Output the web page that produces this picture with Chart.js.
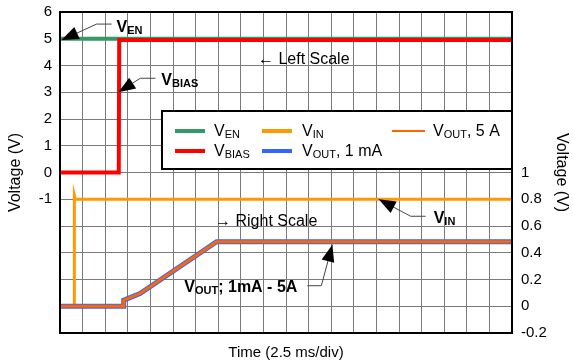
<!DOCTYPE html>
<html>
<head>
<meta charset="utf-8">
<script src="https://cdn.jsdelivr.net/npm/chart.js@4.4.0/dist/chart.umd.min.js"></script>
<style>
  body { margin: 0; background: #fff; }
  canvas { display: block; }
</style>
</head>
<body>
<canvas id="c" width="573" height="364"></canvas>
<script>
// -------- Data (x in divisions, 2.5 ms/div) --------
const venT = [0, 20];
const venV = [5, 5];
const biasT = [0, 2.6, 2.62, 20];
const biasV = [0, 0, 4.95, 4.95];
const vinT = [0, 0.63, 0.635, 0.68, 20];
const vinV = [0, 0, 0.83, 0.8, 0.8];
const voutT = [0, 2.8, 2.82, 3.54, 6.93, 20];
const vout1mA = [0, 0, 0.045, 0.095, 0.482, 0.482];
const vout5A = [0, 0, 0.045, 0.095, 0.482, 0.482];

const leftTicksShown = [6, 5, 4, 3, 2, 1, 0, -1];
const rightTicksShown = [1, 0.8, 0.6, 0.4, 0.2, 0, -0.2];

// legend names: [main, subscript, tail]
const nameEN = ["V", "EN", ""];
const nameBIAS = ["V", "BIAS", ""];
const nameIN = ["V", "IN", ""];
const nameOUT1 = ["V", "OUT", ", 1 mA"];
const nameOUT5 = ["V", "OUT", ", 5 A"];

const FONT = '"Liberation Sans", Arial, sans-serif';
const GRID = "#7a7a7a";

function pts(xs, ys) { return xs.map((x, i) => ({ x: x, y: ys[i] })); }

// -------- Helpers --------
function subText(ctx, x, y, parts, big, small, bold) {
  const w = bold ? "bold " : "";
  ctx.font = w + big + "px " + FONT;
  ctx.fillText(parts[0], x, y);
  x += ctx.measureText(parts[0]).width;
  if (parts[1]) {
    ctx.font = w + small + "px " + FONT;
    ctx.fillText(parts[1], x, y + 2);
    x += ctx.measureText(parts[1]).width;
  }
  if (parts[2]) {
    ctx.font = w + big + "px " + FONT;
    ctx.fillText(parts[2], x, y);
    x += ctx.measureText(parts[2]).width;
  }
  return x;
}

function leader(ctx, tip, elbow, end) {
  ctx.save();
  ctx.strokeStyle = "#444";
  ctx.lineWidth = 1;
  ctx.beginPath();
  ctx.moveTo(end[0], end[1]);
  ctx.lineTo(elbow[0], elbow[1]);
  ctx.lineTo(tip[0], tip[1]);
  ctx.stroke();
  const a = Math.atan2(tip[1] - elbow[1], tip[0] - elbow[0]);
  const L = 17, W = 6.5;
  const bx = tip[0] - L * Math.cos(a), by = tip[1] - L * Math.sin(a);
  ctx.fillStyle = "#000";
  ctx.beginPath();
  ctx.moveTo(tip[0], tip[1]);
  ctx.lineTo(bx + W * Math.sin(a), by - W * Math.cos(a));
  ctx.lineTo(bx - W * Math.sin(a), by + W * Math.cos(a));
  ctx.closePath();
  ctx.fill();
  ctx.restore();
}

// -------- Plugin: frame, notes, legend --------
const extras = {
  id: "extras",
  afterDatasetsDraw(chart) {
    const ctx = chart.ctx;
    const a = chart.chartArea;
    const x = chart.scales.x, yL = chart.scales.yL, yR = chart.scales.yR;

    // plot frame
    ctx.save();
    ctx.strokeStyle = "#000";
    ctx.lineWidth = 2;
    ctx.strokeRect(a.left, a.top, a.right - a.left, a.bottom - a.top);
    ctx.restore();

    ctx.save();
    ctx.fillStyle = "#000";
    ctx.textBaseline = "alphabetic";

    // V_EN
    let t = [x.getPixelForValue(0.07), yL.getPixelForValue(4.95)];
    leader(ctx, t, [t[0] + 35, t[1] - 16], [t[0] + 50, t[1] - 16]);
    subText(ctx, t[0] + 55, t[1] - 8, nameEN, 16, 11, true);

    // V_BIAS
    t = [x.getPixelForValue(2.58), yL.getPixelForValue(3)];
    leader(ctx, t, [t[0] + 22, t[1] - 14], [t[0] + 37, t[1] - 14]);
    subText(ctx, t[0] + 43, t[1] - 7, nameBIAS, 16, 11, true);

    // V_IN
    t = [x.getPixelForValue(14.1), yR.getPixelForValue(0.8)];
    leader(ctx, t, [t[0] + 32, t[1] + 17], [t[0] + 47, t[1] + 17]);
    subText(ctx, t[0] + 55, t[1] + 24, nameIN, 16, 11, true);

    // V_OUT; 1mA - 5A
    t = [x.getPixelForValue(12.05), yR.getPixelForValue(0.46)];
    leader(ctx, t, [t[0] - 11, t[1] + 41], [t[0] - 25, t[1] + 41]);
    subText(ctx, t[0] - 148, t[1] + 47, ["V", "OUT", "; 1mA - 5A"], 16, 11, true);

    // scale hints
    ctx.font = "16px " + FONT;
    ctx.fillText("\u2190 Left Scale", x.getPixelForValue(8.76), yL.getPixelForValue(4.07));
    ctx.fillText("\u2192 Right Scale", x.getPixelForValue(6.86), yR.getPixelForValue(0.598));
    ctx.restore();

    // legend box
    ctx.save();
    const bx = 162, by = 111, bw = a.right - 162, bh = 58;
    ctx.fillStyle = "#fff";
    ctx.fillRect(bx, by, bw, bh);
    ctx.strokeStyle = "#000";
    ctx.lineWidth = 2;
    ctx.strokeRect(bx, by, bw, bh);
    const ds = chart.data.datasets;
    const items = [
      { d: ds[0], n: nameEN, sx: 175, sw: 30, tx: 214, ty: 136, lw: 4 },
      { d: ds[1], n: nameBIAS, sx: 175, sw: 30, tx: 214, ty: 156, lw: 4 },
      { d: ds[2], n: nameIN, sx: 262, sw: 30, tx: 302, ty: 136, lw: 4 },
      { d: ds[3], n: nameOUT1, sx: 262, sw: 30, tx: 302, ty: 156, lw: 4 },
      { d: ds[4], n: nameOUT5, sx: 392, sw: 33, tx: 433, ty: 136, lw: 2 }
    ];
    items.forEach(it => {
      ctx.strokeStyle = it.d.borderColor;
      ctx.lineWidth = it.lw;
      ctx.beginPath();
      ctx.moveTo(it.sx, it.ty - 5);
      ctx.lineTo(it.sx + it.sw, it.ty - 5);
      ctx.stroke();
      ctx.fillStyle = "#000";
      subText(ctx, it.tx, it.ty, it.n, 16, 11, false);
    });
    ctx.restore();
  }
};

// -------- Chart --------
new Chart(document.getElementById("c").getContext("2d"), {
  type: "line",
  data: {
    datasets: [
      { label: "VEN", data: pts(venT, venV), yAxisID: "yL", borderColor: "#339966", borderWidth: 4, order: 4 },
      { label: "VBIAS", data: pts(biasT, biasV), yAxisID: "yL", borderColor: "#ff0000", borderWidth: 4, order: 1 },
      { label: "VIN", data: pts(vinT, vinV), yAxisID: "yR", borderColor: "#ff9900", borderWidth: 3, order: 3 },
      { label: "VOUT, 1 mA", data: pts(voutT, vout1mA), yAxisID: "yR", borderColor: "#3366ff", borderWidth: 5, order: 2 },
      { label: "VOUT, 5 A", data: pts(voutT, vout5A), yAxisID: "yR", borderColor: "#ff6600", borderWidth: 3, order: 0 }
    ]
  },
  options: {
    responsive: false,
    animation: false,
    layout: { padding: { top: 12, left: 0, right: 0, bottom: 0 } },
    elements: { point: { radius: 0 }, line: { tension: 0, borderCapStyle: "butt" } },
    plugins: { legend: { display: false }, tooltip: { enabled: false } },
    scales: {
      x: {
        type: "linear", min: 0, max: 20,
        ticks: { stepSize: 1, display: false },
        grid: { color: GRID, drawTicks: false },
        border: { color: "#000", width: 2 },
        title: { display: true, text: "Time (2.5 ms/div)", color: "#000", font: { family: FONT, size: 15 }, padding: { top: 0, bottom: 2 } },
        afterFit: s => { s.height = 31; s.paddingLeft = 0; s.paddingRight = 0; }
      },
      yL: {
        position: "left", min: -6, max: 6,
        ticks: {
          stepSize: 1, color: "#000", padding: 8, font: { family: FONT, size: 15 },
          callback: v => leftTicksShown.includes(v) ? String(v) : ""
        },
        grid: { color: GRID, drawTicks: false },
        border: { color: "#000", width: 2 },
        title: { display: true, text: "Voltage (V)", color: "#000", font: { family: FONT, size: 16 }, padding: { top: 6, bottom: 0 } },
        afterFit: s => { s.width = 60; s.paddingTop = 0; s.paddingBottom = 0; }
      },
      yR: {
        position: "right", min: -0.2, max: 2.2,
        ticks: {
          stepSize: 0.2, color: "#000", padding: 9, font: { family: FONT, size: 15 },
          callback: v => {
            const r = Math.round(v * 10) / 10;
            return rightTicksShown.includes(r) ? String(r) : "";
          }
        },
        grid: { display: false, drawTicks: false },
        border: { color: "#000", width: 2 },
        title: { display: true, text: "Voltage (V)", color: "#000", font: { family: FONT, size: 16 }, padding: { top: 2, bottom: 0 } },
        afterFit: s => { s.width = 61; s.paddingTop = 0; s.paddingBottom = 0; }
      }
    }
  },
  plugins: [extras]
});
</script>
</body>
</html>
